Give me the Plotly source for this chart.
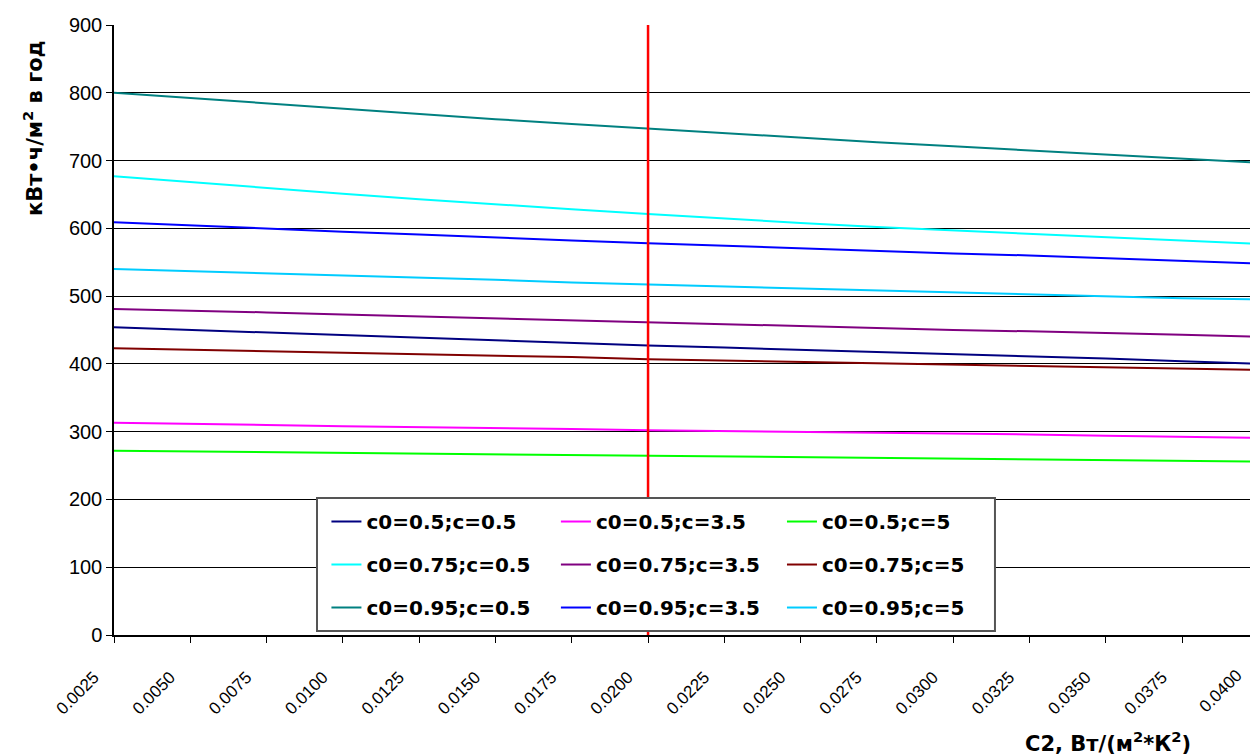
import plotly.graph_objects as go

x_vals = [0.0025, 0.0050, 0.0075, 0.0100, 0.0125, 0.0150, 0.0175, 0.0200,
          0.0225, 0.0250, 0.0275, 0.0300, 0.0325, 0.0350, 0.0375, 0.0400]
x_labels = ["0.0025", "0.0050", "0.0075", "0.0100", "0.0125", "0.0150", "0.0175", "0.0200",
            "0.0225", "0.0250", "0.0275", "0.0300", "0.0325", "0.0350", "0.0375", "0.0400"]

s_05_05 = [454, 450, 446, 442, 439, 435, 431, 427, 424, 421, 418, 415, 411, 408, 404, 400]
s_05_35 = [313, 312, 310, 308, 307, 306, 304, 302, 301, 300, 299, 297, 296, 294, 293, 291]
s_05_5 = [272, 271, 270, 269, 268, 267, 266, 265, 264, 263, 262, 261, 260, 259, 258, 256]
s_075_05 = [677, 668, 659, 651, 643, 635, 628, 621, 614, 608, 602, 597, 592, 587, 582, 577]
s_075_35 = [481, 479, 476, 473, 470, 467, 464, 461, 458, 455, 452, 450, 448, 446, 443, 440]
s_075_5 = [423, 421, 419, 417, 415, 412, 410, 407, 405, 403, 401, 399, 397, 395, 393, 391]
s_095_05 = [800, 792, 784, 776, 768, 761, 754, 747, 740, 733, 727, 721, 715, 709, 703, 697]
s_095_35 = [609, 604, 599, 595, 591, 586, 582, 578, 574, 570, 567, 563, 560, 556, 552, 548]
s_095_5 = [540, 537, 533, 530, 527, 524, 520, 517, 514, 511, 508, 505, 503, 500, 497, 495]

marker_x = [0.0200, 0.0200]
marker_y = [0, 900]

series = [
    ("c0=0.5;c=0.5", s_05_05, "#000080", "legend"),
    ("c0=0.75;c=0.5", s_075_05, "#00FFFF", "legend"),
    ("c0=0.95;c=0.5", s_095_05, "#008080", "legend"),
    ("c0=0.5;c=3.5", s_05_35, "#FF00FF", "legend2"),
    ("c0=0.75;c=3.5", s_075_35, "#800080", "legend2"),
    ("c0=0.95;c=3.5", s_095_35, "#0000FF", "legend2"),
    ("c0=0.5;c=5", s_05_5, "#00FF00", "legend3"),
    ("c0=0.75;c=5", s_075_5, "#800000", "legend3"),
    ("c0=0.95;c=5", s_095_5, "#00CCFF", "legend3"),
]

FONT = "Liberation Sans, Arial, sans-serif"
BOLD_FONT = "DejaVu Sans, Liberation Sans, sans-serif"

# the reference's plot area runs past the right edge of the picture:
# the last category (0.0400) sits just beyond the visible frame
x_step = x_vals[1] - x_vals[0]
x_max_visible = x_vals[0] + 14.89 * x_step
last_label_paper_x = (x_vals[-1] - x_vals[0]) / (x_max_visible - x_vals[0])

fig = go.Figure()
for name, ys, color, lg in series:
    fig.add_trace(go.Scatter(x=x_vals, y=ys, mode="lines", name=name,
                             line=dict(color=color, width=2),
                             legend=lg, legendgroup=name))

fig.add_trace(go.Scatter(x=marker_x, y=marker_y, mode="lines", showlegend=False,
                         line=dict(color="#FF0000", width=2.5)))

# legend box
fig.add_shape(type="rect", xref="paper", yref="paper",
              x0=0.1787, x1=0.7755, y0=0.0066, y1=0.2246,
              fillcolor="white", line=dict(color="#555555", width=2), layer="above")

leg_common = dict(bgcolor="rgba(0,0,0,0)", borderwidth=0,
                  font=dict(family=BOLD_FONT, size=20, color="black", weight="bold"),
                  tracegroupgap=14, yanchor="top", xanchor="left",
                  itemwidth=30)

fig.update_layout(
    width=1251, height=756,
    margin=dict(l=114, r=1, t=25, b=121),
    paper_bgcolor="white", plot_bgcolor="white",
    font=dict(family=FONT, color="black"),
    legend=dict(x=0.187, y=0.218, **leg_common),
    legend2=dict(x=0.389, y=0.218, **leg_common),
    legend3=dict(x=0.588, y=0.218, **leg_common),
    xaxis=dict(range=[x_vals[0], x_max_visible], tickvals=x_vals, ticktext=x_labels,
               tickangle=-45, tickfont=dict(family=FONT, size=17, color="black"),
               ticklabeloverflow="allow", ticklabelshift=-20, ticklabelstandoff=18,
               ticks="outside", ticklen=6, tickcolor="black",
               showline=True, linecolor="black", linewidth=1.5,
               showgrid=False, zeroline=False),
    yaxis=dict(range=[0, 900], dtick=100, tickfont=dict(family=FONT, size=20, color="black"),
               ticks="outside", ticklen=6, tickcolor="black",
               showline=True, linecolor="black", linewidth=1.5,
               showgrid=True, gridcolor="#000000", gridwidth=1, zeroline=False),
    annotations=[
        dict(text="<b>кВт•ч/м<sup>2</sup> в год</b>", xref="paper", yref="paper",
             x=-0.0713, y=0.831, textangle=-90, showarrow=False,
             xanchor="center", yanchor="middle",
             font=dict(family=BOLD_FONT, size=21, color="black")),
        dict(text="<b>C2, Вт/(м<sup>2</sup>*К<sup>2</sup>)</b>", xref="paper", yref="paper",
             x=0.875, y=-0.175, showarrow=False,
             xanchor="center", yanchor="middle",
             font=dict(family=BOLD_FONT, size=21, color="black")),
        # label of the last category, whose tick lies just outside the frame
        dict(text=x_labels[-1], xref="paper", yref="paper",
             x=last_label_paper_x, y=-0.046, xshift=-9, textangle=-45, showarrow=False,
             xanchor="right", yanchor="top",
             font=dict(family=FONT, size=17, color="black")),
    ],
)

fig.write_html("out.html", config={"displayModeBar": False},
               post_script="document.body.style.margin='0px';")
